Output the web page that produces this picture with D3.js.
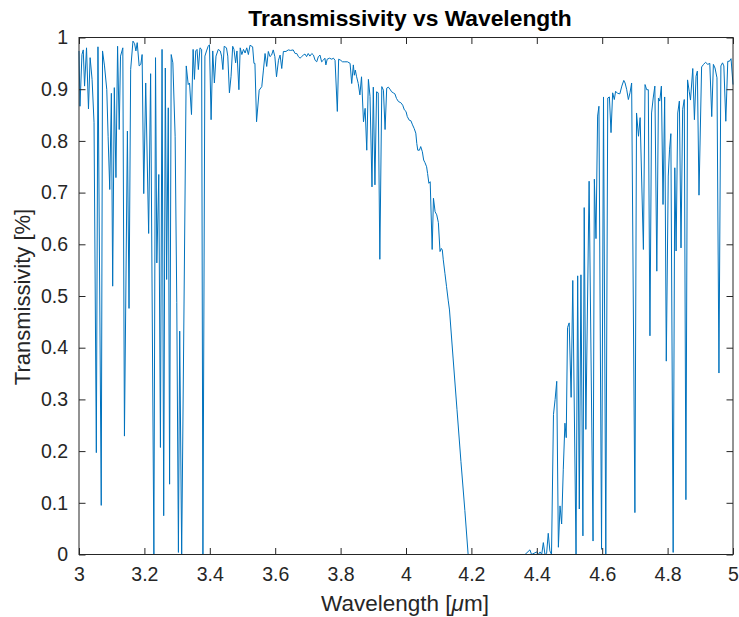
<!DOCTYPE html>
<html>
<head>
<meta charset="utf-8">
<script src="https://cdn.jsdelivr.net/npm/d3@7"></script>
<style>
  body { margin: 0; background: #fff; }
  svg { display: block; font-family: "Liberation Sans", Arial, sans-serif; }
</style>
</head>
<body>
<script>
// wavelength [um] and transmissivity
const wavelength = [
  3.000, 3.003, 3.009, 3.013, 3.017, 3.023, 3.029, 3.034, 3.040, 3.046,
  3.053, 3.058, 3.068, 3.072, 3.078, 3.085, 3.089, 3.094, 3.099, 3.103,
  3.108, 3.113, 3.118, 3.123, 3.127, 3.134, 3.139, 3.148, 3.153, 3.158,
  3.165, 3.170, 3.174, 3.178, 3.184, 3.189, 3.193, 3.198, 3.204, 3.213,
  3.219, 3.229, 3.234, 3.238, 3.244, 3.249, 3.254, 3.259, 3.264, 3.268,
  3.273, 3.277, 3.282, 3.287, 3.294, 3.299, 3.304, 3.308, 3.314, 3.328,
  3.334, 3.338, 3.344, 3.349, 3.353, 3.357, 3.361, 3.365, 3.370, 3.375,
  3.379, 3.385, 3.390, 3.395, 3.399, 3.404, 3.409, 3.414, 3.419, 3.426,
  3.432, 3.436, 3.440, 3.444, 3.451, 3.455, 3.460, 3.465, 3.470, 3.474,
  3.479, 3.483, 3.489, 3.493, 3.498, 3.503, 3.508, 3.513, 3.518, 3.523,
  3.531, 3.535, 3.538, 3.543, 3.551, 3.559, 3.564, 3.569, 3.574, 3.579,
  3.584, 3.589, 3.594, 3.599, 3.604, 3.610, 3.615, 3.620, 3.625, 3.633,
  3.640, 3.647, 3.655, 3.661, 3.666, 3.671, 3.676, 3.681, 3.686, 3.691,
  3.696, 3.701, 3.706, 3.712, 3.717, 3.722, 3.727, 3.732, 3.737, 3.742,
  3.747, 3.752, 3.755, 3.759, 3.766, 3.773, 3.778, 3.783, 3.790, 3.794,
  3.800, 3.806, 3.813, 3.821, 3.829, 3.834, 3.839, 3.842, 3.845, 3.849,
  3.854, 3.859, 3.864, 3.870, 3.875, 3.880, 3.885, 3.890, 3.896, 3.900,
  3.905, 3.910, 3.915, 3.920, 3.926, 3.931, 3.936, 3.941, 3.946, 3.951,
  3.956, 3.961, 3.966, 3.971, 3.977, 3.984, 3.990, 3.995, 4.000, 4.004,
  4.010, 4.015, 4.020, 4.025, 4.030, 4.033, 4.036, 4.041, 4.045, 4.050,
  4.054, 4.058, 4.063, 4.066, 4.070, 4.074, 4.080, 4.084, 4.089, 4.094,
  4.099, 4.104, 4.108, 4.111, 4.114, 4.119, 4.124, 4.129, 4.133, 4.144,
  4.156, 4.168, 4.180, 4.190, 4.364, 4.379, 4.384, 4.400, 4.405, 4.410,
  4.415, 4.420, 4.425, 4.430, 4.435, 4.440, 4.445, 4.451, 4.456, 4.461,
  4.466, 4.471, 4.476, 4.481, 4.486, 4.490, 4.494, 4.499, 4.505, 4.510,
  4.520, 4.525, 4.530, 4.535, 4.541, 4.545, 4.550, 4.560, 4.572, 4.576,
  4.581, 4.586, 4.590, 4.598, 4.604, 4.611, 4.617, 4.622, 4.627, 4.632,
  4.637, 4.641, 4.647, 4.654, 4.660, 4.666, 4.670, 4.675, 4.680, 4.685,
  4.690, 4.700, 4.705, 4.711, 4.716, 4.726, 4.731, 4.736, 4.741, 4.746,
  4.751, 4.756, 4.761, 4.767, 4.772, 4.776, 4.781, 4.786, 4.791, 4.796,
  4.802, 4.806, 4.810, 4.817, 4.822, 4.826, 4.831, 4.836, 4.841, 4.846,
  4.851, 4.856, 4.861, 4.866, 4.870, 4.877, 4.882, 4.887, 4.891, 4.896,
  4.904, 4.910, 4.916, 4.923, 4.929, 4.935, 4.940, 4.945, 4.951, 4.957,
  4.963, 4.968, 4.972, 4.978, 4.984, 4.989, 4.994, 5.000
]
const transmissivity = [
  0.974, 0.867, 0.967, 0.976, 0.906, 0.980, 0.862, 0.961, 0.919, 0.835,
  0.197, 0.982, 0.095, 0.974, 0.945, 0.899, 0.809, 0.706, 0.892, 0.519,
  0.903, 0.729, 0.983, 0.822, 0.964, 0.980, 0.229, 0.819, 0.476, 0.938,
  0.993, 0.988, 0.974, 0.990, 0.945, 0.948, 0.967, 0.698, 0.912, 0.621,
  0.930, 0.000, 0.961, 0.564, 0.735, 0.207, 0.977, 0.075, 0.941, 0.532,
  0.864, 0.136, 0.967, 0.951, 0.809, 0.487, 0.004, 0.432, 0.000, 0.945,
  0.909, 0.912, 0.851, 0.977, 0.919, 0.974, 0.977, 0.938, 0.980, 0.977,
  0.000, 0.964, 0.974, 0.983, 0.986, 0.841, 0.974, 0.912, 0.964, 0.977,
  0.974, 0.964, 0.938, 0.983, 0.980, 0.964, 0.893, 0.925, 0.983, 0.977,
  0.951, 0.974, 0.899, 0.980, 0.967, 0.977, 0.970, 0.980, 0.967, 0.985,
  0.982, 0.950, 0.950, 0.837, 0.898, 0.905, 0.937, 0.969, 0.944, 0.973,
  0.963, 0.966, 0.976, 0.963, 0.924, 0.956, 0.966, 0.940, 0.973, 0.973,
  0.976, 0.975, 0.976, 0.969, 0.969, 0.963, 0.960, 0.963, 0.966, 0.968,
  0.963, 0.969, 0.964, 0.969, 0.966, 0.956, 0.953, 0.963, 0.966, 0.953,
  0.956, 0.960, 0.947, 0.958, 0.960, 0.958, 0.960, 0.956, 0.857, 0.958,
  0.956, 0.953, 0.953, 0.953, 0.950, 0.911, 0.947, 0.927, 0.937, 0.924,
  0.911, 0.889, 0.924, 0.837, 0.863, 0.782, 0.919, 0.886, 0.711, 0.904,
  0.715, 0.895, 0.893, 0.571, 0.905, 0.898, 0.822, 0.902, 0.904, 0.900,
  0.895, 0.893, 0.891, 0.882, 0.876, 0.874, 0.869, 0.860, 0.857, 0.847,
  0.840, 0.839, 0.831, 0.824, 0.815, 0.795, 0.782, 0.782, 0.789, 0.779,
  0.763, 0.758, 0.750, 0.737, 0.718, 0.721, 0.590, 0.689, 0.663, 0.657,
  0.642, 0.586, 0.592, 0.589, 0.570, 0.544, 0.518, 0.492, 0.473, 0.380,
  0.280, 0.180, 0.085, 0.000, 0.000, 0.009, 0.000, 0.005, 0.000, 0.005,
  0.000, 0.023, 0.000, 0.002, 0.041, 0.007, 0.000, 0.271, 0.300, 0.335,
  0.014, 0.094, 0.059, 0.165, 0.254, 0.226, 0.439, 0.448, 0.304, 0.530,
  0.000, 0.539, 0.088, 0.541, 0.036, 0.671, 0.242, 0.722, 0.026, 0.726,
  0.611, 0.848, 0.867, 0.010, 0.885, 0.000, 0.883, 0.885, 0.816, 0.893,
  0.880, 0.896, 0.892, 0.891, 0.906, 0.917, 0.912, 0.899, 0.880, 0.893,
  0.912, 0.081, 0.854, 0.809, 0.845, 0.590, 0.909, 0.899, 0.899, 0.423,
  0.854, 0.883, 0.906, 0.548, 0.883, 0.877, 0.906, 0.677, 0.885, 0.374,
  0.732, 0.784, 0.814, 0.004, 0.748, 0.587, 0.854, 0.877, 0.593, 0.861,
  0.880, 0.106, 0.918, 0.896, 0.879, 0.940, 0.841, 0.925, 0.935, 0.695,
  0.943, 0.948, 0.952, 0.948, 0.950, 0.847, 0.948, 0.941, 0.922, 0.351,
  0.945, 0.951, 0.945, 0.838, 0.954, 0.954, 0.959, 0.909
]
const xTicks = [3, 3.2, 3.4, 3.6, 3.8, 4, 4.2, 4.4, 4.6, 4.8, 5]
const yTicks = [0, 0.1, 0.2, 0.3, 0.4, 0.5, 0.6, 0.7, 0.8, 0.9, 1]

const W = 739, H = 617
const box = { left: 79, right: 733, top: 37.5, bottom: 554.5 }
const axisColor = '#262626'
const tickLen = 6.5

const svg = d3.select('body').append('svg').attr('width', W).attr('height', H)

const x = d3.scaleLinear().domain([3, 5]).range([box.left, box.right])
const y = d3.scaleLinear().domain([0, 1]).range([box.bottom, box.top])

// data line
const pts = wavelength.map((w, i) => [w, transmissivity[i]])
const line = d3.line().x(d => x(d[0])).y(d => y(d[1]))
svg.append('path')
  .attr('d', line(pts))
  .attr('fill', 'none')
  .attr('stroke', '#0072BD')
  .attr('stroke-width', 1)
  .attr('stroke-linejoin', 'round')

// axes, ticks pointing inward (mirrored on top and right)
function styleAxis(g) {
  g.select('.domain').remove()
  g.selectAll('line').attr('stroke', axisColor)
  g.selectAll('text').attr('fill', axisColor).style('font-size', '19.5px')
}
svg.append('g').attr('transform', `translate(0,${box.bottom})`)
  .call(d3.axisBottom(x).tickValues(xTicks).tickFormat(d3.format('~g')).tickSize(-tickLen).tickPadding(13))
  .call(styleAxis)
svg.append('g').attr('transform', `translate(0,${box.top})`)
  .call(d3.axisTop(x).tickValues(xTicks).tickFormat('').tickSize(-tickLen))
  .call(styleAxis)
svg.append('g').attr('transform', `translate(${box.left},0)`)
  .call(d3.axisLeft(y).tickValues(yTicks).tickFormat(d3.format('~g')).tickSize(-tickLen).tickPadding(11))
  .call(styleAxis)
svg.append('g').attr('transform', `translate(${box.right},0)`)
  .call(d3.axisRight(y).tickValues(yTicks).tickFormat('').tickSize(-tickLen))
  .call(styleAxis)

svg.append('rect')
  .attr('x', box.left).attr('y', box.top)
  .attr('width', box.right - box.left).attr('height', box.bottom - box.top)
  .attr('fill', 'none').attr('stroke', axisColor).attr('stroke-width', 1)

// title and labels
svg.append('text')
  .attr('x', 410).attr('y', 26)
  .attr('text-anchor', 'middle')
  .style('font-size', '22.8px').style('font-weight', 'bold')
  .attr('fill', '#000')
  .text('Transmissivity vs Wavelength')

const xl = svg.append('text')
  .attr('x', 405).attr('y', 611)
  .attr('text-anchor', 'middle')
  .style('font-size', '22.5px').attr('fill', axisColor)
xl.append('tspan').text('Wavelength [')
xl.append('tspan').style('font-style', 'italic').text('\u03bc')
xl.append('tspan').text('m]')

svg.append('text')
  .attr('transform', `translate(30,${(box.top + box.bottom) / 2 + 1}) rotate(-90)`)
  .attr('text-anchor', 'middle')
  .style('font-size', '22px').attr('fill', axisColor)
  .text('Transmissivity [%]')
</script>
</body>
</html>
